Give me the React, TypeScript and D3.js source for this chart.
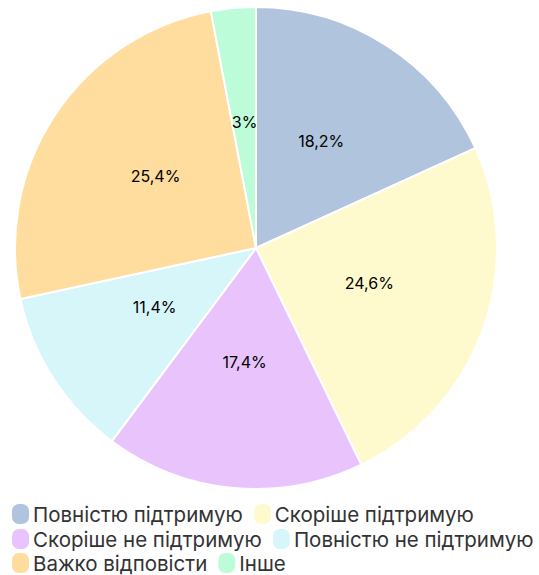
import * as d3 from "d3";
import { useEffect, useRef } from "react";

const categories = [
  "Повністю підтримую",
  "Скоріше підтримую",
  "Скоріше не підтримую",
  "Повністю не підтримую",
  "Важко відповісти",
  "Інше",
];
const values = [18.2, 24.6, 17.4, 11.4, 25.4, 3];
const labels = ["18,2%", "24,6%", "17,4%", "11,4%", "25,4%", "3%"];
const colors = ["#b0c4de", "#fffacd", "#e9c3fc", "#d6f6fa", "#fedd9e", "#bdfcd9"];

const W = 539;
const H = 575;

export default function App() {
  const svgRef = useRef<SVGSVGElement | null>(null);

  useEffect(() => {
    if (!svgRef.current) return;
    const svg = d3.select(svgRef.current);
    svg.selectAll("*").remove();

    const cx = 256;
    const cy = 248;
    const r = 241;

    const pie = d3.pie<number>().sort(null).value((d) => d);
    const arcs = pie(values);
    const arc = d3.arc<d3.PieArcDatum<number>>().innerRadius(0).outerRadius(r);
    const labelArc = d3.arc<d3.PieArcDatum<number>>().innerRadius(r * 0.5).outerRadius(r * 0.5);

    const g = svg.append("g").attr("transform", `translate(${cx},${cy})`);
    g.selectAll("path")
      .data(arcs)
      .join("path")
      .attr("d", arc)
      .attr("fill", (_, i) => colors[i])
      .attr("stroke", "#fff")
      .attr("stroke-width", 2);

    // labels sit on their baseline at the centroid
    g.selectAll("text")
      .data(arcs)
      .join("text")
      .attr("transform", (d) => `translate(${labelArc.centroid(d)})`)
      .attr("text-anchor", "middle")
      .attr("font-family", "Inter, sans-serif")
      .attr("font-size", 16)
      .attr("fill", "#000")
      .text((_, i) => labels[i]);

    // legend, left-aligned flow
    const legend = svg.append("g");
    const left = 12;
    const maxRight = 537;
    const rowY = [514, 539, 563];
    let x = left;
    let row = 0;
    categories.forEach((c, i) => {
      const item = legend.append("g");
      item
        .append("rect")
        .attr("y", -10)
        .attr("width", 17)
        .attr("height", 20)
        .attr("rx", 7)
        .attr("fill", colors[i]);
      const t = item
        .append("text")
        .attr("x", 21)
        .attr("y", 0)
        .attr("dominant-baseline", "central")
        .attr("font-family", "Inter, sans-serif")
        .attr("font-size", 20.5)
        .attr("fill", "#333")
        .text(c);
      const w = 21 + (t.node() as SVGTextElement).getComputedTextLength();
      if (x + w > maxRight && x > left) {
        row += 1;
        x = left;
      }
      item.attr("transform", `translate(${x},${rowY[row]})`);
      x += w + 11;
    });
  }, []);

  return (
    <svg
      ref={svgRef}
      width={W}
      height={H}
      style={{ position: "absolute", left: 0, top: 0, background: "#fff" }}
    />
  );
}
